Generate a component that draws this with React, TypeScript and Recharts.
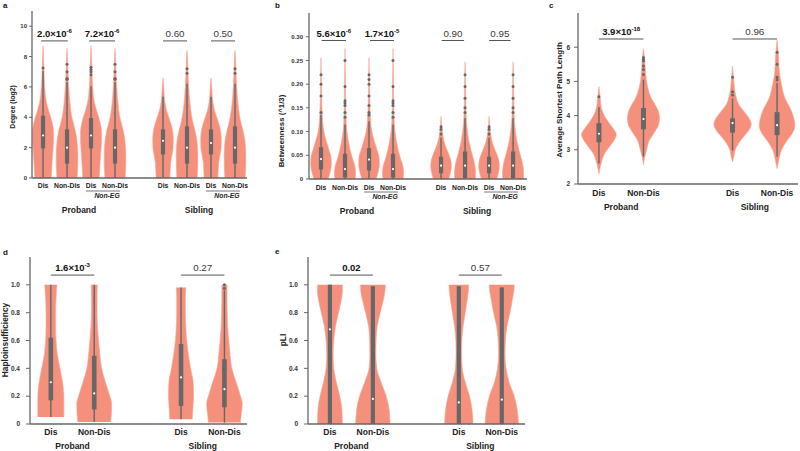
import React from 'react';
import { ComposedChart, Area, Line, XAxis, YAxis, ReferenceLine } from 'recharts';

const VIOLIN = '#F5907C';
const VIOLIN_EDGE = '#F7A797';
const BOX = '#676767';
const FONT = '"Liberation Sans", Arial, Helvetica, sans-serif';

const groupNames = ['Proband', 'Sibling'];

// ---------- a: Degree (log2) ----------
const degreeNames = ['Dis', 'Non-Dis', 'Dis', 'Non-Dis', 'Dis', 'Non-Dis', 'Dis', 'Non-Dis'];
const degreePos = [0, 1, 2, 3, 5, 6, 7, 8];
// [value, half width]
const degreeProDis = [[8.7, 0], [8, 0.02], [7, 0.04], [6, 0.07], [5, 0.14], [4.5, 0.22], [4, 0.32], [3.5, 0.4], [3, 0.44], [2.5, 0.44], [2, 0.42], [1.5, 0.4], [1, 0.38], [0.5, 0.36], [0, 0.34]];
const degreeProNon = [[8.55, 0], [8, 0.02], [7, 0.04], [6, 0.07], [5, 0.12], [4, 0.2], [3.5, 0.28], [3, 0.36], [2.5, 0.41], [2, 0.44], [1.5, 0.45], [1, 0.45], [0.5, 0.44], [0, 0.42]];
const degreeSibDis = [[6.6, 0], [6, 0.03], [5, 0.08], [4.5, 0.14], [4, 0.24], [3.5, 0.34], [3, 0.41], [2.5, 0.43], [2, 0.42], [1.5, 0.37], [1, 0.32], [0.5, 0.3], [0, 0.29]];
const degreeSibNon = [[8.4, 0], [8, 0.02], [7, 0.04], [6, 0.07], [5, 0.12], [4, 0.2], [3.5, 0.27], [3, 0.35], [2.5, 0.41], [2, 0.44], [1.5, 0.45], [1, 0.45], [0.5, 0.44], [0, 0.42]];
// q1, q3, median, whisker low, whisker high
const degreeStats = [
  [1.95, 4.1, 2.8, 0, 7.05], [0.95, 3.2, 2.0, 0, 6.3], [1.95, 3.95, 2.8, 0, 6.05], [0.95, 3.2, 2.0, 0, 6.3],
  [1.55, 3.2, 2.45, 0, 5.35], [0.95, 3.4, 2.0, 0, 6.2], [1.55, 3.2, 2.3, 0, 5.35], [0.95, 3.4, 2.0, 0, 6.2],
];
const degreeOutliers = [[7.25], [6.5, 6.55, 7.0, 7.5], [6.8, 7.0, 7.15, 7.3], [6.5, 6.55, 7.0, 7.5], [], [6.9, 7.2], [], [6.9, 7.2]];
const degreeTicks = [0, 2, 4, 6, 8, 10];
const degreeP = ['2.0×10', '7.2×10', '0.60', '0.50'];
const degreePExp = ['-6', '-6', '', ''];
const degreeSig = [true, true, false, false];
const degreeBrackets = [[-0.08, 1.03], [1.92, 3.0], [5.0, 6.0], [7.0, 8.0]];

// ---------- b: Betweenness ----------
const btwProDis = [[0.255, 0], [0.2, 0.02], [0.15, 0.04], [0.12, 0.07], [0.1, 0.12], [0.08, 0.22], [0.06, 0.34], [0.045, 0.42], [0.03, 0.43], [0.015, 0.38], [0, 0.3]];
const btwProNon = [[0.275, 0], [0.2, 0.02], [0.15, 0.03], [0.12, 0.05], [0.1, 0.08], [0.08, 0.14], [0.06, 0.22], [0.04, 0.33], [0.025, 0.42], [0.01, 0.44], [0, 0.42]];
const btwSibDis = [[0.132, 0], [0.11, 0.03], [0.09, 0.08], [0.07, 0.18], [0.05, 0.34], [0.035, 0.42], [0.025, 0.43], [0.015, 0.4], [0, 0.32]];
const btwSibNon = [[0.247, 0], [0.2, 0.02], [0.15, 0.035], [0.12, 0.06], [0.1, 0.1], [0.08, 0.16], [0.06, 0.25], [0.04, 0.36], [0.025, 0.42], [0.01, 0.44], [0, 0.43]];
const btwStats = [
  [0.02, 0.067, 0.042, 0, 0.135], [0.003, 0.053, 0.021, 0, 0.115], [0.018, 0.065, 0.041, 0, 0.122], [0.003, 0.053, 0.021, 0, 0.115],
  [0.012, 0.047, 0.028, 0, 0.087], [0.002, 0.058, 0.028, 0, 0.128], [0.012, 0.047, 0.028, 0, 0.087], [0.002, 0.058, 0.028, 0, 0.128],
];
const btwOutliers = [
  [0.14, 0.175, 0.2, 0.22], [0.13, 0.14, 0.155, 0.16, 0.165, 0.195, 0.25], [0.135, 0.14, 0.155, 0.175, 0.2, 0.21, 0.22], [0.13, 0.14, 0.155, 0.16, 0.165, 0.195, 0.25],
  [0.095, 0.105, 0.11], [0.14, 0.15, 0.17, 0.195, 0.22], [0.095, 0.105, 0.11], [0.14, 0.15, 0.17, 0.195, 0.22],
];
const btwTicks = [0, 0.05, 0.1, 0.15, 0.2, 0.25, 0.3];
const btwP = ['5.6×10', '1.7×10', '0.90', '0.95'];
const btwPExp = ['-6', '-5', '', ''];
const btwSig = [true, true, false, false];
const btwBrackets = [[0.03, 1.04], [2.04, 3.04], [5.03, 5.96], [7.0, 7.9]];

// ---------- c: Average shortest path length ----------
const twoNames = ['Dis', 'Non-Dis', 'Dis', 'Non-Dis'];
const twoPos = [0, 1, 3, 4];
const splProDis = [[4.85, 0], [4.5, 0.03], [4.2, 0.06], [4.0, 0.12], [3.8, 0.22], [3.6, 0.33], [3.45, 0.39], [3.3, 0.35], [3.1, 0.24], [2.9, 0.13], [2.7, 0.07], [2.5, 0.03], [2.3, 0]];
const splProNon = [[5.95, 0], [5.6, 0.03], [5.2, 0.05], [4.8, 0.1], [4.5, 0.18], [4.3, 0.27], [4.1, 0.34], [3.9, 0.36], [3.7, 0.33], [3.5, 0.24], [3.3, 0.14], [3.0, 0.07], [2.8, 0.03], [2.55, 0]];
const splSibDis = [[5.45, 0], [5.0, 0.03], [4.6, 0.07], [4.3, 0.15], [4.1, 0.27], [3.9, 0.38], [3.75, 0.42], [3.6, 0.38], [3.4, 0.26], [3.2, 0.14], [3.0, 0.06], [2.8, 0.03], [2.65, 0]];
const splSibNon = [[6.2, 0], [5.8, 0.03], [5.3, 0.05], [4.9, 0.1], [4.5, 0.18], [4.2, 0.3], [3.9, 0.38], [3.7, 0.4], [3.5, 0.35], [3.3, 0.24], [3.0, 0.1], [2.7, 0.04], [2.45, 0]];
const splStats = [[3.22, 3.78, 3.47, 2.6, 4.25], [3.6, 4.22, 3.9, 2.8, 5.05], [3.5, 3.92, 3.78, 2.98, 4.5], [3.43, 4.1, 3.72, 2.8, 4.95]];
const splOutliers = [[4.55], [5.2, 5.35, 5.45, 5.6, 5.65, 5.7], [4.6, 4.7, 5.12], [5.05, 5.12, 5.5, 5.85]];
const splTicks = [2, 3, 4, 5, 6];
const splP = ['3.9×10', '0.96'];
const splPExp = ['-18', ''];
const splSig = [true, false];
const splBrackets = [[0, 1], [3, 4]];

// ---------- d: Haploinsufficiency ----------
const hapProDis = [[1.0, 0.14], [0.9, 0.12], [0.8, 0.11], [0.7, 0.11], [0.6, 0.12], [0.5, 0.15], [0.4, 0.21], [0.3, 0.27], [0.2, 0.3], [0.12, 0.3], [0.05, 0.3]];
const hapProNon = [[1.0, 0.07], [0.9, 0.065], [0.8, 0.065], [0.7, 0.075], [0.6, 0.1], [0.5, 0.13], [0.4, 0.17], [0.3, 0.26], [0.2, 0.36], [0.15, 0.4], [0.1, 0.4], [0.05, 0.39], [0.015, 0.38]];
const hapSibDis = [[0.98, 0.11], [0.9, 0.1], [0.8, 0.1], [0.7, 0.11], [0.6, 0.13], [0.5, 0.17], [0.4, 0.22], [0.3, 0.28], [0.2, 0.29], [0.1, 0.27], [0.035, 0.26]];
const hapSibNon = [[1.0, 0.06], [0.9, 0.06], [0.8, 0.065], [0.7, 0.075], [0.6, 0.1], [0.5, 0.13], [0.4, 0.17], [0.3, 0.27], [0.2, 0.37], [0.15, 0.41], [0.1, 0.4], [0.05, 0.38], [0.01, 0.37]];
const hapStats = [[0.17, 0.62, 0.3, 0.05, 1.0], [0.105, 0.49, 0.22, 0.015, 1.0], [0.13, 0.575, 0.335, 0.035, 0.98], [0.12, 0.465, 0.25, 0.01, 0.96]];
const hapOutliers = [[], [], [], [0.975, 1.0]];
const unitTicks = [0, 0.2, 0.4, 0.6, 0.8, 1.0];
const hapP = ['1.6×10', '0.27'];
const hapPExp = ['-3', ''];
const hapSig = [true, false];
const hapBrackets = [[0, 1], [3, 4]];

// ---------- e: pLI ----------
const pliProDis = [[1.0, 0.29], [0.95, 0.29], [0.9, 0.27], [0.8, 0.2], [0.7, 0.13], [0.6, 0.09], [0.5, 0.075], [0.4, 0.09], [0.3, 0.15], [0.2, 0.23], [0.1, 0.28], [0, 0.29]];
const pliProNon = [[1.0, 0.29], [0.95, 0.28], [0.9, 0.25], [0.8, 0.17], [0.7, 0.1], [0.6, 0.075], [0.5, 0.07], [0.4, 0.09], [0.3, 0.19], [0.2, 0.31], [0.1, 0.38], [0, 0.4]];
const pliSibDis = [[1.0, 0.23], [0.95, 0.22], [0.9, 0.2], [0.8, 0.15], [0.7, 0.1], [0.6, 0.07], [0.5, 0.065], [0.4, 0.08], [0.3, 0.15], [0.2, 0.25], [0.1, 0.31], [0, 0.33]];
const pliSibNon = [[1.0, 0.29], [0.95, 0.28], [0.9, 0.25], [0.8, 0.19], [0.7, 0.12], [0.6, 0.085], [0.5, 0.075], [0.4, 0.1], [0.3, 0.17], [0.2, 0.29], [0.1, 0.36], [0, 0.39]];
const pliStats = [[0, 1.0, 0.68, 0, 1.0], [0, 0.99, 0.18, 0, 0.99], [0, 0.99, 0.155, 0, 0.99], [0, 0.98, 0.175, 0, 0.98]];
const pliOutliers = [[], [], [], []];
const pliP = ['0.02', '0.57'];
const pliPExp = ['', ''];
const pliSig = [true, false];
const pliBrackets = [[0, 1], [3, 4]];

// one row per y value, violin keys hold [left, right] ranges
function buildRows(pos: number[], shapes: number[][][], stats: number[][], outs: number[][]) {
  const map = new Map<number, any>();
  const row = (y: number) => {
    if (!map.has(y)) map.set(y, { y });
    return map.get(y);
  };
  pos.forEach((p, k) => {
    shapes[k].forEach(([y, w]) => { row(y)['v' + k] = [p - w, p + w]; });
    const [q1, q3, med, lo, hi] = stats[k];
    row(lo)['w' + k] = p;
    row(hi)['w' + k] = p;
    row(q1)['b' + k] = p;
    row(q3)['b' + k] = p;
    row(med)['m' + k] = p;
    outs[k].forEach((o) => { row(o)['o' + k] = p; });
  });
  const rows = [...map.values()].sort((a, b) => b.y - a.y);
  rows.forEach((r) => pos.forEach((_, k) => { if (!r['v' + k]) r['v' + k] = [null, null]; }));
  return rows;
}

const bracketLabel = (text: string, exp: string, sig: boolean) => (props: any) => {
  const vb = props.viewBox || {};
  const cx = vb.x1 != null ? (vb.x1 + vb.x2) / 2 : vb.x + vb.width / 2;
  const y = (vb.y1 != null ? vb.y1 : vb.y) - 4;
  return (
    <text x={cx} y={y} textAnchor="middle" fontFamily={FONT} fontSize={sig ? 9.5 : 9.8}
      fontWeight={sig ? 'bold' : 'normal'} fill={sig ? '#111' : '#3a3a3a'}>
      <tspan>{text}</tspan>
      {exp ? <tspan dy={-3.8} fontSize={6}>{exp}</tspan> : null}
    </text>
  );
};

function ViolinPanel(props: any) {
  const {
    left, top, width, height, marginTop, marginRight, yWidth, xHeight,
    yDomain, yTicks, yFmt, yFs, yTickSize, yTickMargin,
    xDomain, pos, names, groupPos, nonEgPos, shapes, stats, outs,
    brackets, bracketY, pText, pExp, pSig, catFs, catDy, groupDy, boxW,
  } = props;
  const rows = buildRows(pos, shapes, stats, outs);
  const xTicks = [...pos, ...groupPos, ...nonEgPos];

  const renderTick = (t: any) => {
    const { x, y, payload } = t;
    const v = payload.value;
    const gi = groupPos.indexOf(v);
    if (gi >= 0) {
      return (
        <text x={x} y={y + groupDy} textAnchor="middle" fontFamily={FONT} fontSize={8.5} fontWeight="bold" fill="#222">
          {groupNames[gi]}
        </text>
      );
    }
    if (nonEgPos.indexOf(v) >= 0) {
      return (
        <g>
          <line x1={x - 17} x2={x + 17} y1={y + 13} y2={y + 13} stroke="#555" strokeWidth={0.8} />
          <text x={x + 4} y={y + 19.5} textAnchor="middle" fontFamily={FONT} fontSize={6.8} fontWeight="bold" fontStyle="italic" fill="#222">
            Non-EG
          </text>
        </g>
      );
    }
    const k = pos.indexOf(v);
    return (
      <text x={x} y={y + catDy} textAnchor="middle" fontFamily={FONT} fontSize={catFs} fontWeight="bold" fill="#222">
        {k >= 0 ? names[k] : ''}
      </text>
    );
  };

  return (
    <div style={{ position: 'absolute', left, top }}>
      <ComposedChart width={width} height={height} data={rows} layout="vertical"
        margin={{ top: marginTop, right: marginRight, left: 0, bottom: 0 }}>
        <XAxis type="number" domain={xDomain} ticks={xTicks} interval={0} allowDataOverflow
          tick={renderTick} tickLine={false} tickSize={0} tickMargin={0} height={xHeight}
          axisLine={{ stroke: '#666', strokeWidth: 1.3 }} />
        <YAxis type="number" dataKey="y" domain={yDomain} ticks={yTicks} reversed allowDataOverflow
          width={yWidth} tickFormatter={yFmt} tickSize={yTickSize} tickMargin={yTickMargin}
          tick={{ fontSize: yFs, fontWeight: 'bold', fill: '#333', fontFamily: FONT }}
          tickLine={{ stroke: '#666' }} axisLine={{ stroke: '#666', strokeWidth: 1.3 }} />
        {pos.map((_: number, k: number) => (
          <Area key={'v' + k} dataKey={'v' + k} type="monotone" fill={VIOLIN} fillOpacity={1}
            stroke={VIOLIN_EDGE} strokeWidth={0.6} connectNulls dot={false} activeDot={false}
            isAnimationActive={false} />
        ))}
        {pos.map((_: number, k: number) => (
          <Line key={'w' + k} dataKey={'w' + k} stroke={BOX} strokeWidth={1.4} connectNulls
            dot={false} activeDot={false} isAnimationActive={false} />
        ))}
        {pos.map((_: number, k: number) => (
          <Line key={'b' + k} dataKey={'b' + k} stroke={BOX} strokeWidth={boxW} connectNulls
            dot={false} activeDot={false} isAnimationActive={false} />
        ))}
        {pos.map((_: number, k: number) => (
          <Line key={'o' + k} dataKey={'o' + k} stroke="none" connectNulls
            dot={{ r: 1.5, fill: BOX, stroke: 'none' }} activeDot={false} isAnimationActive={false} />
        ))}
        {pos.map((_: number, k: number) => (
          <Line key={'m' + k} dataKey={'m' + k} stroke="none" connectNulls
            dot={{ r: 1.1, fill: '#fff', stroke: 'none' }} activeDot={false} isAnimationActive={false} />
        ))}
        {brackets.map((br: number[], i: number) => (
          <ReferenceLine key={'r' + i} segment={[{ x: br[0], y: bracketY }, { x: br[1], y: bracketY }]}
            stroke="#555" strokeWidth={1} ifOverflow="visible"
            label={bracketLabel(pText[i], pExp[i], pSig[i])} />
        ))}
      </ComposedChart>
    </div>
  );
}

const intFmt = (v: number) => String(v);
const twoDec = (v: number) => (v === 0 ? '0' : v.toFixed(2));
const oneDec = (v: number) => (v === 0 ? '0' : v.toFixed(1));

export default function App() {
  return (
    <div style={{ position: 'absolute', left: 0, top: 0, width: 800, height: 451, background: '#fff', overflow: 'hidden', fontFamily: FONT }}>
      <ViolinPanel left={0} top={0} width={250} height={222} marginTop={11} marginRight={3} yWidth={32} xHeight={44}
        yDomain={[0, 11]} yTicks={degreeTicks} yFmt={intFmt} yFs={6} yTickSize={3} yTickMargin={2}
        xDomain={[-0.46, 8.5]} pos={degreePos} names={degreeNames} groupPos={[1.5, 6.5]} nonEgPos={[2.5, 7.5]}
        shapes={[degreeProDis, degreeProNon, degreeProDis, degreeProNon, degreeSibDis, degreeSibNon, degreeSibDis, degreeSibNon]}
        stats={degreeStats} outs={degreeOutliers} brackets={degreeBrackets} bracketY={9.03}
        pText={degreeP} pExp={degreePExp} pSig={degreeSig} catFs={6.8} catDy={10} groupDy={35} boxW={4.2} />
      <ViolinPanel left={260} top={0} width={270} height={222} marginTop={13} marginRight={3} yWidth={49} xHeight={43}
        yDomain={[0, 0.35]} yTicks={btwTicks} yFmt={twoDec} yFs={6} yTickSize={3} yTickMargin={3}
        xDomain={[-0.5, 8.58]} pos={degreePos} names={degreeNames} groupPos={[1.5, 6.5]} nonEgPos={[2.5, 7.5]}
        shapes={[btwProDis, btwProNon, btwProDis, btwProNon, btwSibDis, btwSibNon, btwSibDis, btwSibNon]}
        stats={btwStats} outs={btwOutliers} brackets={btwBrackets} bracketY={0.292}
        pText={btwP} pExp={btwPExp} pSig={btwSig} catFs={6.8} catDy={10.5} groupDy={34.5} boxW={4.2} />
      <ViolinPanel left={520} top={0} width={280} height={222} marginTop={13} marginRight={2} yWidth={58} xHeight={38}
        yDomain={[2, 7]} yTicks={splTicks} yFmt={intFmt} yFs={6.5} yTickSize={4} yTickMargin={4}
        xDomain={[-0.47, 4.47]} pos={twoPos} names={twoNames} groupPos={[0.5, 3.5]} nonEgPos={[]}
        shapes={[splProDis, splProNon, splSibDis, splSibNon]}
        stats={splStats} outs={splOutliers} brackets={splBrackets} bracketY={6.24}
        pText={splP} pExp={splPExp} pSig={splSig} catFs={8.5} catDy={12} groupDy={25.5} boxW={5} />
      <ViolinPanel left={0} top={225} width={250} height={226} marginTop={32} marginRight={3} yWidth={30} xHeight={27}
        yDomain={[0, 1.2]} yTicks={unitTicks} yFmt={oneDec} yFs={6.5} yTickSize={4} yTickMargin={6}
        xDomain={[-0.48, 4.52]} pos={twoPos} names={twoNames} groupPos={[0.5, 3.5]} nonEgPos={[]}
        shapes={[hapProDis, hapProNon, hapSibDis, hapSibNon]}
        stats={hapStats} outs={hapOutliers} brackets={hapBrackets} bracketY={1.07}
        pText={hapP} pExp={hapPExp} pSig={hapSig} catFs={8.5} catDy={11} groupDy={24.5} boxW={4.6} />
      <ViolinPanel left={260} top={225} width={270} height={226} marginTop={32} marginRight={5} yWidth={48} xHeight={27}
        yDomain={[0, 1.2]} yTicks={unitTicks} yFmt={oneDec} yFs={6.5} yTickSize={4} yTickMargin={6}
        xDomain={[-0.51, 4.54]} pos={twoPos} names={twoNames} groupPos={[0.5, 3.5]} nonEgPos={[]}
        shapes={[pliProDis, pliProNon, pliSibDis, pliSibNon]}
        stats={pliStats} outs={pliOutliers} brackets={pliBrackets} bracketY={1.07}
        pText={pliP} pExp={pliPExp} pSig={pliSig} catFs={8.5} catDy={11} groupDy={24.5} boxW={4.2} />

      {/* panel letters and axis titles */}
      <svg width={800} height={451} style={{ position: 'absolute', left: 0, top: 0, pointerEvents: 'none' }}>
        <g fontFamily={FONT} fontWeight="bold" fill="#111" fontSize={8}>
          <text x={3} y={8}>a</text>
          <text x={275} y={7.5}>b</text>
          <text x={549} y={7.5}>c</text>
          <text x={3} y={254.5}>d</text>
          <text x={275} y={254}>e</text>
        </g>
        <g fontFamily={FONT} fontWeight="bold" fill="#222" textAnchor="middle">
          <text transform="translate(14.5,107) rotate(-90)" fontSize={6.8}>Degree (log2)</text>
          <text transform="translate(283.5,131) rotate(-90)" fontSize={7.8}>Betweenness (^1/3)</text>
          <text transform="translate(562,100) rotate(-90)" fontSize={8.1}>Average Shortest Path Length</text>
          <text transform="translate(7.5,340) rotate(-90)" fontSize={8.4}>Haploinsufficiency</text>
          <text transform="translate(286,340) rotate(-90)" fontSize={8.4}>pLI</text>
        </g>
      </svg>
    </div>
  );
}
